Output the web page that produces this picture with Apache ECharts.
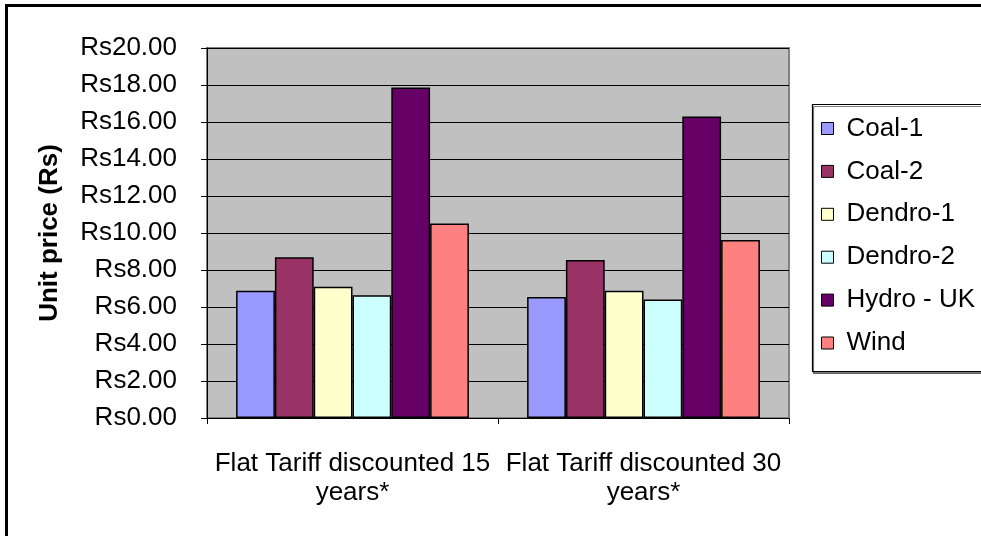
<!DOCTYPE html>
<html>
<head>
<meta charset="utf-8">
<script src="https://cdn.jsdelivr.net/npm/echarts@6/dist/echarts.min.js"></script>
<style>
  html, body { margin: 0; padding: 0; background: #fff; }
  #chart { width: 981px; height: 536px; }
</style>
</head>
<body>
<div id="chart"></div>
<script>
// Unit price comparison by generation technology
const categories = ['Flat Tariff discounted 15 years*', 'Flat Tariff discounted 30 years*'];
const seriesNames = ['Coal-1', 'Coal-2', 'Dendro-1', 'Dendro-2', 'Hydro - UK', 'Wind'];
const coal1 = [6.88, 6.54];
const coal2 = [8.69, 8.54];
const dendro1 = [7.10, 6.88];
const dendro2 = [6.63, 6.41];
const hydroUK = [17.86, 16.30];
const wind = [10.52, 9.62];
const seriesValues = [coal1, coal2, dendro1, dendro2, hydroUK, wind];
const seriesColors = ['#9999FF', '#993366', '#FFFFCC', '#CCFFFF', '#660066', '#FF8080'];

const FONT = '"Liberation Sans", Arial, sans-serif';
const FONT_SIZE = 26;

const chart = echarts.init(document.getElementById('chart'), null, { renderer: 'canvas' });

chart.setOption({
  backgroundColor: '#ffffff',
  animation: false,
  textStyle: { fontFamily: FONT, color: '#000' },
  graphic: [
    {
      type: 'rect',
      z: -10,
      shape: { x: 6.5, y: 5.5, width: 1200, height: 800 },
      style: { fill: 'none', stroke: '#000', lineWidth: 3 }
    },
    {
      type: 'rect',
      z: -5,
      shape: { x: 812.5, y: 104.5, width: 200, height: 267 },
      style: { fill: '#fff', stroke: '#000', lineWidth: 1.2, shadowColor: 'rgba(0,0,0,0.5)', shadowOffsetX: 1, shadowOffsetY: 2 }
    }
  ],
  legend: {
    orient: 'vertical',
    left: 821,
    top: 115,
    padding: 0,
    itemWidth: 12,
    itemHeight: 12,
    itemGap: 15.9,
    icon: 'rect',
    itemStyle: { borderColor: '#000', borderWidth: 1 },
    textStyle: { fontFamily: FONT, fontSize: FONT_SIZE, color: '#000', lineHeight: 27, padding: [0, 0, 0, 8] },
    data: seriesNames
  },
  grid: {
    left: 207,
    right: 192,
    top: 48,
    bottom: 118,
    show: true,
    backgroundColor: '#C0C0C0',
    borderColor: '#808080',
    borderWidth: 2
  },
  xAxis: {
    type: 'category',
    data: categories,
    boundaryGap: true,
    axisLine: { show: true, lineStyle: { color: '#000', width: 1 } },
    axisTick: { show: true, length: 6, lineStyle: { color: '#000' } },
    axisLabel: {
      interval: 0,
      margin: 31,
      fontFamily: FONT,
      fontSize: FONT_SIZE,
      lineHeight: 29,
      color: '#000',
      formatter: function (v) {
        const i = v.lastIndexOf(' ');
        return v.slice(0, i) + '\n' + v.slice(i + 1);
      }
    }
  },
  yAxis: {
    type: 'value',
    min: 0,
    max: 20,
    interval: 2,
    name: 'Unit price (Rs)',
    nameLocation: 'middle',
    nameGap: 144,
    nameRotate: 90,
    nameTextStyle: { fontFamily: FONT, fontSize: FONT_SIZE, fontWeight: 'bold', color: '#000' },
    axisLine: { show: true, lineStyle: { color: '#000', width: 1 } },
    axisTick: { show: true, length: 6, lineStyle: { color: '#000' } },
    axisLabel: {
      margin: 30,
      fontFamily: FONT,
      fontSize: FONT_SIZE,
      color: '#000',
      formatter: function (v) { return 'Rs' + v.toFixed(2); }
    },
    splitLine: { show: true, lineStyle: { color: '#000', width: 1 } }
  },
  series: seriesNames.map(function (name, i) {
    return {
      name: name,
      type: 'bar',
      data: seriesValues[i],
      barGap: '0%',
      barCategoryGap: '20%',
      itemStyle: { color: seriesColors[i], borderColor: '#000', borderWidth: 1.5 }
    };
  })
});
</script>
</body>
</html>
